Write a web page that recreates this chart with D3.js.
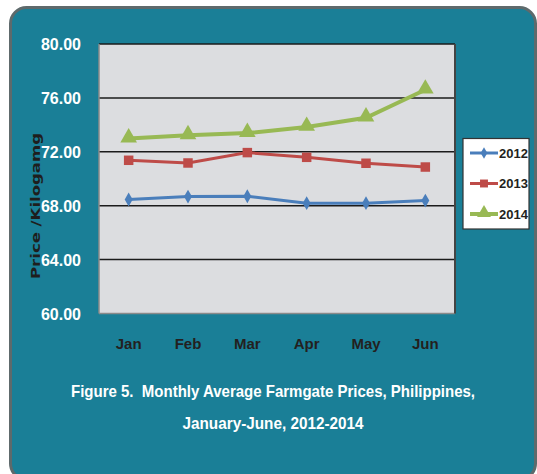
<!DOCTYPE html>
<html><head><meta charset="utf-8">
<script src="https://cdn.jsdelivr.net/npm/d3@7"></script>
<style>
html,body{margin:0;padding:0;background:#fff;}
svg{display:block;}
.cond{font-family:"Liberation Sans Narrow","Arial Narrow","Liberation Sans",sans-serif;font-weight:bold;}
</style></head>
<body>
<script>
const months = ["Jan","Feb","Mar","Apr","May","Jun"];
const series2012 = [68.46, 68.68, 68.70, 68.19, 68.19, 68.38];
const series2013 = [71.37, 71.17, 71.94, 71.59, 71.15, 70.87];
const series2014 = [72.98, 73.22, 73.39, 73.84, 74.53, 76.60];
const seriesNames = ["2012","2013","2014"];
const yTicks = [60,64,68,72,76,80];
const titleLines = ["Figure 5.  Monthly Average Farmgate Prices, Philippines,","January-June, 2012-2014"];
const yTitle = "Price /Kilogamg";

const W=537,H=474;
const svg=d3.select("body").append("svg").attr("width",W).attr("height",H);

// panel
svg.append("rect").attr("x",10.5).attr("y",7.5).attr("width",525).attr("height",472)
  .attr("rx",16).attr("fill","#1a7f97").attr("stroke","#5e6a6c").attr("stroke-width",3);

const plot={l:99,r:455,t:44,b:313.5};
const x=d3.scaleBand().domain(months).range([plot.l,plot.r]).padding(0);
const y=d3.scaleLinear().domain([60,80]).range([plot.b,plot.t]);

svg.append("rect").attr("x",plot.l).attr("y",plot.t).attr("width",plot.r-plot.l).attr("height",plot.b-plot.t)
  .attr("fill","#dcdde0");

// gridlines
svg.append("g").selectAll("line").data(yTicks.filter(v=>v>60)).join("line")
  .attr("x1",plot.l).attr("x2",plot.r).attr("y1",d=>y(d)).attr("y2",d=>y(d))
  .attr("stroke","#1b1b1b").attr("stroke-width",1.5);
// border
svg.append("line").attr("x1",plot.l).attr("x2",plot.l).attr("y1",plot.t).attr("y2",plot.b).attr("stroke","#8a8a8a").attr("stroke-width",1.5);
svg.append("line").attr("x1",plot.l).attr("x2",plot.r).attr("y1",plot.b).attr("y2",plot.b).attr("stroke","#8a8a8a").attr("stroke-width",1.5);
svg.append("line").attr("x1",plot.r).attr("x2",plot.r).attr("y1",plot.t).attr("y2",plot.b).attr("stroke","#444").attr("stroke-width",2);

// y axis labels
const yAxis=d3.axisLeft(y).tickValues(yTicks).tickFormat(d3.format(".2f")).tickSize(0).tickPadding(0);
const ga=svg.append("g").attr("transform",`translate(81,0)`).call(yAxis);
ga.select(".domain").remove();
ga.selectAll("text").attr("class","cond").attr("fill","#fff").attr("font-size",16).attr("dy","0.36em");

// x axis labels
const xAxis=d3.axisBottom(x).tickSize(0).tickPadding(0);
const gx=svg.append("g").attr("transform",`translate(0,344)`).call(xAxis);
gx.select(".domain").remove();
gx.selectAll("text").attr("class","cond").attr("fill","#231f20").attr("font-size",15).attr("dy","0.36em");

// y title
svg.append("text").attr("transform","translate(35,206) rotate(-90)").attr("text-anchor","middle")
  .attr("dy","0.35em").attr("font-family","DejaVu Sans").attr("font-weight","bold").attr("font-size",13)
  .attr("fill","#1e1e1e").attr("textLength",146).attr("lengthAdjust","spacingAndGlyphs").text(yTitle);

const colors=["#4a7ebb","#be4b48","#98b954"];
const data=[series2012,series2013,series2014];
const widths=[3,3,4];
const line=d3.line().x((d,i)=>x(months[i])+x.bandwidth()/2).y(d=>y(d));
const symbols=[d3.symbolDiamond,d3.symbolSquare,d3.symbolTriangle];
const sizes=[55,90,120];

data.forEach((s,k)=>{
  svg.append("path").datum(s).attr("d",line).attr("fill","none").attr("stroke",colors[k]).attr("stroke-width",widths[k]);
  svg.append("g").selectAll("path").data(s).join("path")
    .attr("transform",(d,i)=>`translate(${x(months[i])+x.bandwidth()/2},${y(d)+(k==2?-1:0)})`)
    .attr("d",d3.symbol().type(symbols[k]).size(sizes[k])).attr("fill",colors[k]);
});

// legend
const lg=svg.append("g");
lg.append("rect").attr("x",463).attr("y",138.5).attr("width",66).attr("height",90.5).attr("fill","#fff").attr("stroke","#333").attr("stroke-width",1.2);
const ly=d3.scalePoint().domain(seriesNames).range([153,214]);
seriesNames.forEach((n,k)=>{
  lg.append("line").attr("x1",470).attr("x2",498).attr("y1",ly(n)).attr("y2",ly(n)).attr("stroke",colors[k]).attr("stroke-width",widths[k]);
  lg.append("path").attr("transform",`translate(484,${ly(n)+(k==2?-1:0)})`).attr("d",d3.symbol().type(symbols[k]).size(sizes[k]*0.7)).attr("fill",colors[k]);
  lg.append("text").attr("class","cond").attr("x",499).attr("y",ly(n)).attr("dy","0.36em").attr("font-size",13).attr("fill","#231f20").text(n);
});

// title
const tl=[{t:titleLines[0],y:391,len:404},{t:titleLines[1],y:423,len:181}];
tl.forEach(o=>{
  svg.append("text").attr("class","cond").attr("x",273).attr("y",o.y).attr("text-anchor","middle").attr("dy","0.36em")
    .attr("font-size",17).attr("fill","#fff").attr("xml:space","preserve").attr("textLength",o.len).attr("lengthAdjust","spacingAndGlyphs").text(o.t);
});
</script>
</body></html>
